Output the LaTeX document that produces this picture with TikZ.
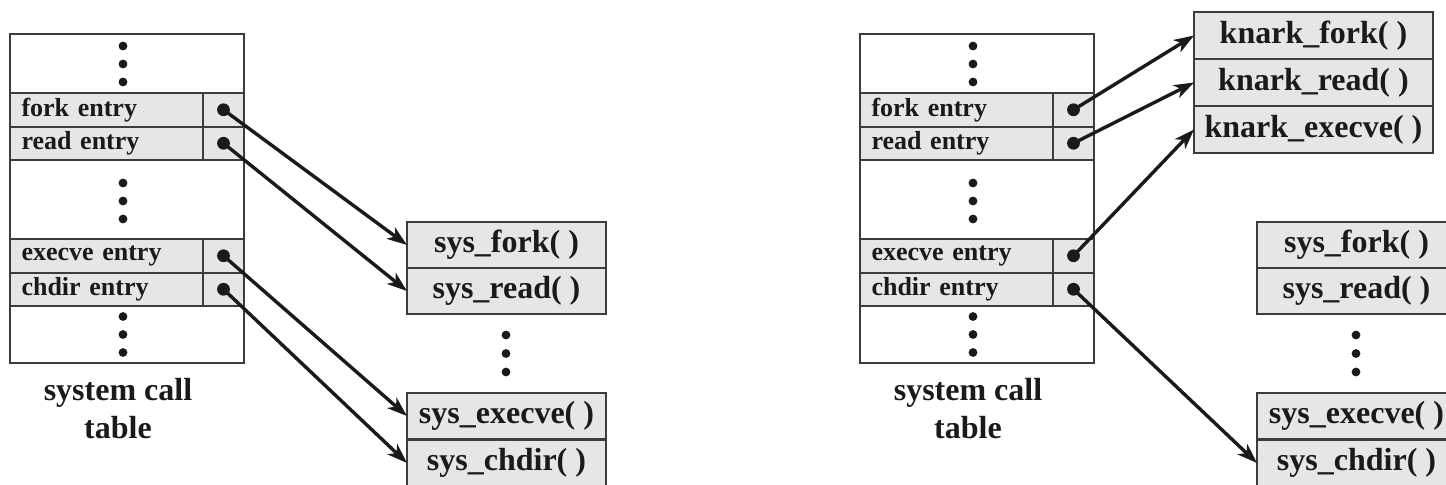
\documentclass[tikz,border=0pt]{standalone}
\usepackage{fontspec}
\setmainfont{Liberation Serif}
\usetikzlibrary{arrows.meta}
\definecolor{cellg}{HTML}{E6E6E6}
\definecolor{rule}{HTML}{3C3C3C}
\definecolor{ink}{HTML}{1A1A1A}

\begin{document}
\begin{tikzpicture}[x=.5pt,y=-.5pt,>={Stealth[length=10pt,width=7pt,inset=2.8pt]},
  every node/.style={font={\bfseries\fontsize{16}{19}\selectfont},text=ink},
  cell/.style={draw=rule,line width=1pt,inner sep=0pt,outer sep=0pt},
  ent/.style={cell,fill=cellg,minimum height=16.75pt,minimum width=96.5pt,text width=85pt,align=left,font={\bfseries\fontsize{13}{15}\selectfont}},
  ptr/.style={cell,fill=cellg,minimum height=16.75pt,minimum width=20.5pt},
  gap/.style={cell,fill=white,minimum width=117pt},
  fn/.style={cell,fill=cellg,minimum width=99.5pt,minimum height=23pt},
  kn/.style={cell,fill=cellg,minimum width=119.5pt,minimum height=23.5pt},
  hook/.style={->,ink,line width=1.7pt}]
\useasboundingbox (0,0) rectangle (1446,484);
\clip (0,0) rectangle (1446,484);
% both system call tables, the original one and the one after knark
\foreach \t/\ox in {L/0,R/850}{
\node[gap,minimum height=29.5pt] (\t top) at (\ox+127,63.5) {};
\node[gap,minimum height=39.5pt] (\t mid) at (\ox+127,199.5) {};
\node[gap,minimum height=28.5pt] (\t bot) at (\ox+127,334.5) {};
\foreach \c in {64,201,334.5} \foreach \d in {-18,0,18} \fill[ink] (\ox+123,\c+\d) circle (2.2pt);
\foreach \n/\y in {fork/109.75,read/143.25,execve/255.75,chdir/289.25}{
\node[ent] (\t\n) at (\ox+106.5,\y) {\n\ entry};
\node[ptr] (\t p\n) at (\ox+223.5,\y) {};
\fill[ink] (\t p\n) circle (3.2pt);}
\node[align=center] (\t cap) at (\ox+118,409) {system call\\table};
% kernel functions
\foreach \n/\y in {fork/245,read/291,execve/416,chdir/463}
\node[fn] (\t S\n) at (\ox+506.5,\y) {sys\_\n( )};
\foreach \d in {-18.5,0,18.5} \fill[ink] (\ox+506,353.5+\d) circle (2.2pt);}
% replacement functions
\foreach \n/\y in {fork/35.5,read/82.5,execve/129.5}
\node[kn] (K\n) at (1313.5,\y) {knark\_\n( )};
\foreach \n in {fork,read,execve,chdir} \draw[hook] (Lp\n.center) -- (LS\n.west);
\foreach \n in {fork,read,execve} \draw[hook] (Rp\n.center) -- (K\n.west);
\draw[hook] (Rpchdir.center) -- (RSchdir.west);
\end{tikzpicture}
\end{document}
